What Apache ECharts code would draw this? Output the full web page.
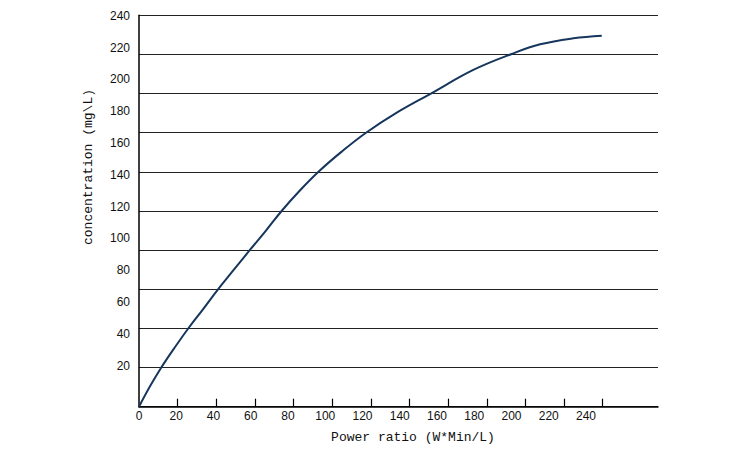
<!DOCTYPE html>
<html>
<head>
<meta charset="utf-8">
<script src="https://cdn.jsdelivr.net/npm/echarts@6/dist/echarts.min.js"></script>
<style>
html,body{margin:0;padding:0;background:#fff;}
#chart{width:750px;height:460px;}
</style>
</head>
<body>
<div id="chart"></div>
<script>
// Curve values (power ratio vs concentration)
const powerRatio = [0, 5.7, 11.3, 18.1, 25.2, 33.1, 40.9, 49.1, 57.4, 65.5, 73.8, 82.9, 93.3, 104.9, 117.5, 133.4, 150.6, 173.0, 192.9, 207.6, 224.8, 239.5];
const concentration = [0, 12.5, 23.6, 35.6, 47.5, 59.7, 72.0, 84.0, 96.1, 107.7, 120.0, 132.1, 144.5, 156.4, 168.0, 180.3, 191.7, 206.5, 216.3, 222.2, 225.9, 227.5];
// Tick positions on the x axis line
const xTickValues = [20, 40, 60, 80, 100, 120, 140, 160, 180, 200, 220, 240];
// Tick label ranges
const xLabelRange = [0, 240];
const yLabelRange = [0, 240];
const labelStep = 20;
const gridStep = 24;

const xTitle = 'Power ratio (W*Min/L)';
const yTitle = 'concentration (mg\\L)';

const chart = echarts.init(document.getElementById('chart'), null, {renderer: 'svg'});
const labelFont = {fontFamily: 'Liberation Sans', fontSize: 12, color: '#111'};
const monoFont = 'Liberation Mono';

chart.setOption({
  animation: false,
  backgroundColor: '#fff',
  grid: [
    {left: 139, top: 15.3, width: 519, height: 391.4},
    {left: 139, top: 15.7, width: 447, height: 381.8}
  ],
  xAxis: [
    {
      gridIndex: 0, type: 'value', min: 0, max: 268.6,
      axisLine: {show: true, lineStyle: {color: '#000', width: 1.5}},
      axisTick: {show: true, inside: true, length: 8, customValues: xTickValues, lineStyle: {color: '#000', width: 1.2}},
      axisLabel: {show: false},
      splitLine: {show: false}
    },
    {
      gridIndex: 1, type: 'value', min: xLabelRange[0], max: xLabelRange[1], interval: labelStep,
      axisLine: {show: false}, axisTick: {show: false}, splitLine: {show: false},
      axisLabel: Object.assign({show: true, margin: 12, showMaxLabel: true, showMinLabel: true}, labelFont)
    }
  ],
  yAxis: [
    {
      gridIndex: 0, type: 'value', min: 0, max: 240, interval: gridStep,
      axisLine: {show: true, lineStyle: {color: '#000', width: 1.5}},
      axisTick: {show: false},
      axisLabel: {show: false},
      splitLine: {show: true, lineStyle: {color: '#222', width: 1.2}}
    },
    {
      gridIndex: 1, type: 'value', min: yLabelRange[0], max: yLabelRange[1], interval: labelStep,
      axisLine: {show: false}, axisTick: {show: false}, splitLine: {show: false},
      axisLabel: Object.assign({show: true, margin: 9, showMinLabel: false, showMaxLabel: true}, labelFont)
    }
  ],
  graphic: [
    {
      type: 'text', x: 413, y: 437,
      style: {text: xTitle, font: '13px "' + monoFont + '"', fill: '#111', align: 'center', verticalAlign: 'middle'}
    },
    {
      type: 'text', x: 88, y: 167, rotation: Math.PI / 2,
      style: {text: yTitle, font: '13px "' + monoFont + '"', fill: '#111', align: 'center', verticalAlign: 'middle'}
    }
  ],
  series: [
    {
      type: 'line', xAxisIndex: 0, yAxisIndex: 0,
      data: powerRatio.map((x, i) => [x, concentration[i]]),
      smooth: 0.4, symbol: 'none',
      lineStyle: {color: '#17365d', width: 2}
    }
  ]
});
</script>
</body>
</html>
